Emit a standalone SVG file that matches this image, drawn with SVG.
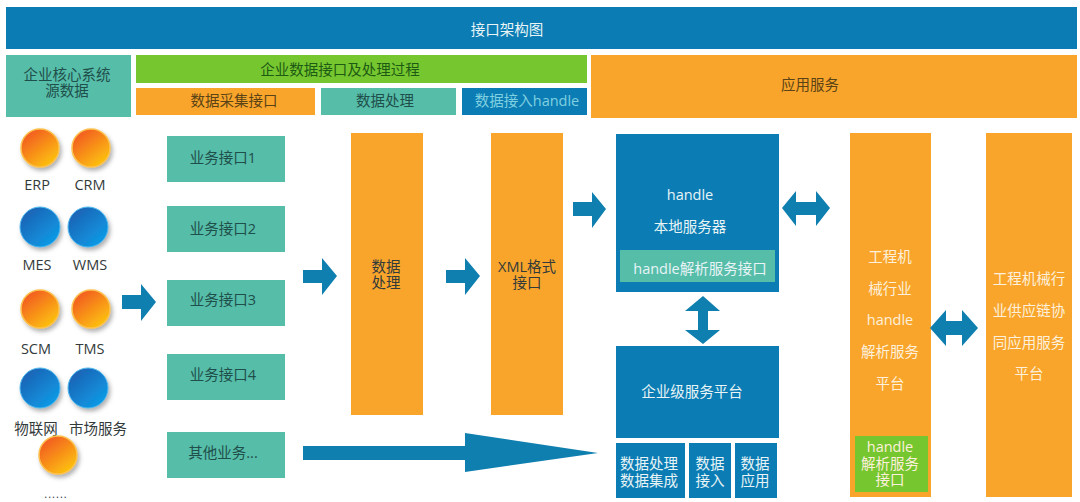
<svg xmlns="http://www.w3.org/2000/svg" width="1080" height="502" viewBox="0 0 1080 502">
  <style>
    text { font-family: "Open Sans", "Noto Sans CJK SC", sans-serif; font-size: 14.5px; text-anchor: middle; }
    .dark { fill: #1f4f4a; }
    .ink { fill: #333a3a; }
    .light { fill: #e8f4f6; }
    .pale { fill: #fdf0dc; }
    .blue { fill: #0b7db4; }
    .teal { fill: #56bda9; }
    .orange { fill: #f9a52b; }
    .green { fill: #76c72f; }
    .arrow { fill: #0f7fb0; }
    .disc-o { fill: url(#discOrange); stroke: #fcc24e; stroke-width: 1.5; filter: url(#discShadow); }
    .disc-b { fill: url(#discBlue); stroke: #4db8f0; stroke-width: 1; filter: url(#discShadow); }
  </style>
  <defs>
    <linearGradient id="discOrange" x1="0.15" y1="0.1" x2="0.8" y2="0.95">
      <stop offset="0" stop-color="#f25a22"/>
      <stop offset="1" stop-color="#fdc40e"/>
    </linearGradient>
    <linearGradient id="discBlue" x1="0.15" y1="0.1" x2="0.85" y2="0.9">
      <stop offset="0" stop-color="#1c62b4"/>
      <stop offset="1" stop-color="#0e9be6"/>
    </linearGradient>
    <filter id="discShadow" x="-30%" y="-30%" width="170%" height="170%">
      <feDropShadow dx="2" dy="3" stdDeviation="2" flood-color="#555" flood-opacity="0.45"/>
    </filter>
  </defs>
  <rect width="1080" height="502" fill="#fff"/>

  <g id="header">
    <rect class="blue" x="6" y="7" width="1071" height="42"/>
    <text class="light" x="507" y="35">接口架构图</text>
  </g>
  <g id="source-title">
    <rect class="teal" x="6" y="55" width="125" height="62"/>
    <text class="dark" y="80"><tspan x="67">企业核心系统</tspan><tspan x="67" dy="16">源数据</tspan></text>
  </g>
  <g id="process-title">
    <rect class="green" x="136" y="55" width="451" height="28"/>
    <text fill="#1d5a14" x="340" y="75">企业数据接口及处理过程</text>
  </g>
  <g id="collect-title">
    <rect class="orange" x="136" y="88" width="179" height="27"/>
    <text fill="#5a4316" x="234" y="106">数据采集接口</text>
  </g>
  <g id="handling-title">
    <rect class="teal" x="321" y="88" width="135" height="27"/>
    <text class="dark" x="385" y="106">数据处理</text>
  </g>
  <g id="access-title">
    <rect class="blue" x="462" y="88" width="125" height="27"/>
    <text fill="#7fd0e0" x="527" y="106">数据接入handle</text>
  </g>
  <g id="service-title">
    <rect class="orange" x="591" y="55" width="486" height="63"/>
    <text fill="#5a4316" x="810" y="90">应用服务</text>
  </g>

  <g id="erp"><circle class="disc-o" cx="40" cy="148" r="19"/><text class="ink" x="37" y="190">ERP</text></g>
  <g id="crm"><circle class="disc-o" cx="91" cy="148" r="19"/><text class="ink" x="90" y="190">CRM</text></g>
  <g id="mes"><circle class="disc-b" cx="40" cy="227" r="20"/><text class="ink" x="37" y="270">MES</text></g>
  <g id="wms"><circle class="disc-b" cx="88" cy="227" r="20"/><text class="ink" x="90" y="270">WMS</text></g>
  <g id="scm"><circle class="disc-o" cx="40" cy="309" r="19"/><text class="ink" x="36" y="354">SCM</text></g>
  <g id="tms"><circle class="disc-o" cx="91" cy="309" r="19"/><text class="ink" x="90" y="354">TMS</text></g>
  <g id="iot"><circle class="disc-b" cx="40" cy="388" r="20"/><text class="ink" x="36" y="434">物联网</text></g>
  <g id="market"><circle class="disc-b" cx="88" cy="388" r="20"/><text class="ink" x="98" y="434">市场服务</text></g>
  <g id="more-systems"><circle class="disc-o" cx="58" cy="455" r="19"/><text class="ink" x="56" y="498" style="font-size:11px;letter-spacing:1px">......</text></g>

  <g id="api-1"><rect class="teal" x="167" y="136" width="118" height="46"/><text class="dark" x="223" y="163">业务接口1</text></g>
  <g id="api-2"><rect class="teal" x="167" y="206" width="118" height="46"/><text class="dark" x="223" y="234">业务接口2</text></g>
  <g id="api-3"><rect class="teal" x="167" y="280" width="118" height="46"/><text class="dark" x="223" y="305">业务接口3</text></g>
  <g id="api-4"><rect class="teal" x="167" y="354" width="118" height="46"/><text class="dark" x="223" y="380">业务接口4</text></g>
  <g id="api-other"><rect class="teal" x="167" y="432" width="118" height="46"/><text class="dark" x="223" y="458">其他业务...</text></g>

  <g id="data-processing">
    <rect class="orange" x="351" y="133" width="72" height="282"/>
    <text class="ink" y="272"><tspan x="386">数据</tspan><tspan x="386" dy="16">处理</tspan></text>
  </g>
  <g id="xml-interface">
    <rect class="orange" x="491" y="133" width="72" height="282"/>
    <text class="ink" y="272"><tspan x="527">XML格式</tspan><tspan x="527" dy="16">接口</tspan></text>
  </g>

  <g id="local-server">
    <rect class="blue" x="616" y="134" width="163" height="158"/>
    <text class="light" x="690" y="200">handle</text>
    <text class="light" x="690" y="232">本地服务器</text>
    <rect class="teal" x="620" y="250" width="155" height="32"/>
    <text class="light" x="700" y="274">handle解析服务接口</text>
  </g>
  <g id="enterprise-platform">
    <rect class="blue" x="616" y="346" width="163" height="92"/>
    <text class="light" x="692" y="397">企业级服务平台</text>
  </g>
  <g id="integration">
    <rect class="blue" x="616" y="443" width="69" height="55"/>
    <text class="light" y="469"><tspan x="649">数据处理</tspan><tspan x="649" dy="17">数据集成</tspan></text>
  </g>
  <g id="ingest">
    <rect class="blue" x="689" y="443" width="42" height="55"/>
    <text class="light" y="469"><tspan x="710">数据</tspan><tspan x="710" dy="17">接入</tspan></text>
  </g>
  <g id="apply">
    <rect class="blue" x="735" y="443" width="42" height="55"/>
    <text class="light" y="469"><tspan x="755">数据</tspan><tspan x="755" dy="17">应用</tspan></text>
  </g>

  <g id="industry-resolver">
    <rect class="orange" x="850" y="133" width="81" height="364"/>
    <text class="pale" x="890" y="262">工程机</text>
    <text class="pale" x="890" y="294">械行业</text>
    <text class="pale" x="890" y="325">handle</text>
    <text class="pale" x="890" y="357">解析服务</text>
    <text class="pale" x="890" y="389">平台</text>
    <rect class="green" x="855" y="436" width="73" height="56"/>
    <text class="pale" y="452"><tspan x="890">handle</tspan><tspan x="890" dy="16.5">解析服务</tspan><tspan x="890" dy="16.5">接口</tspan></text>
  </g>
  <g id="supply-chain">
    <rect class="orange" x="986" y="133" width="86" height="364"/>
    <text class="pale" x="1029" y="284">工程机械行</text>
    <text class="pale" x="1029" y="316">业供应链协</text>
    <text class="pale" x="1029" y="348">同应用服务</text>
    <text class="pale" x="1029" y="379">平台</text>
  </g>

  <g id="connectors">
    <polygon class="arrow" points="122,295 141,295 141,284 156,302 141,321 141,309 122,309"/>
    <polygon class="arrow" points="303,270 322,270 322,258 337,276 322,295 322,283 303,283"/>
    <polygon class="arrow" points="446,270 465,270 465,258 480,276 465,295 465,283 446,283"/>
    <polygon class="arrow" points="573,202 592,202 592,192 606,209 592,228 592,216 573,216"/>
    <polygon class="arrow" points="782,208 796,191 796,202 816,202 816,191 830,208 816,226 816,215 796,215 796,226"/>
    <polygon class="arrow" points="703,296 720,311 708,311 708,330 720,330 703,344 685,330 698,330 698,311 685,311"/>
    <polygon class="arrow" points="930,328 946,310 946,321 962,321 962,310 978,328 962,346 962,335 946,335 946,346"/>
    <polygon class="arrow" points="303,446 465,446 465,433 598,453 465,472 465,460 303,460"/>
  </g>
</svg>
